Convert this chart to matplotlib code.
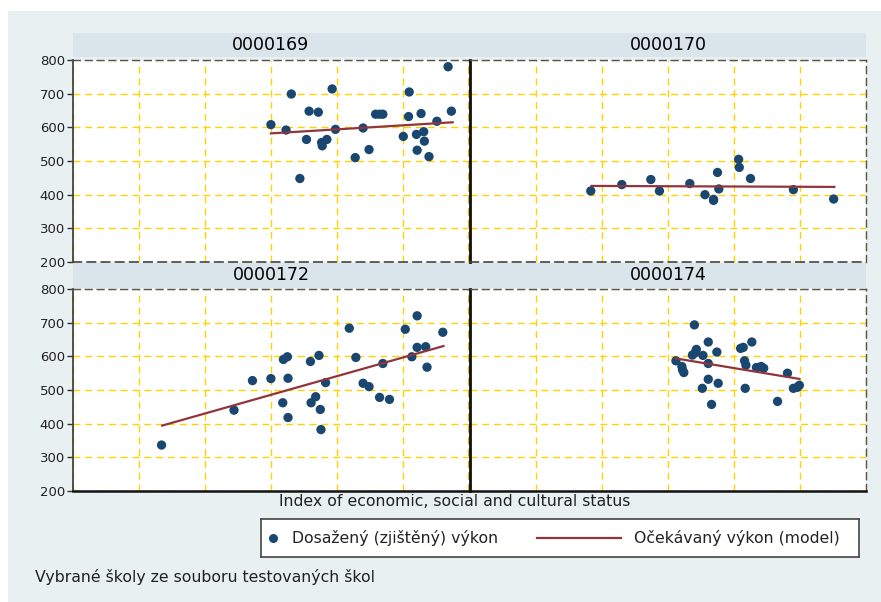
import numpy as np
import matplotlib.pyplot as plt
from matplotlib.patches import Rectangle

plt.rcParams['font.family'] = ['DejaVu Sans']

# School codes (panel titles)
schools = ['0000169', '0000170', '0000172', '0000174']

# Observed scores (index of ESCS, score) per school
x_169 = [0.00, 0.23, 0.31, 0.44, 0.54, 0.58, 0.72, 0.77, 0.78, 0.85, 0.93, 0.98, 1.28, 1.40, 1.49,
         1.59, 1.65, 1.70, 2.01, 2.09, 2.10, 2.21, 2.22, 2.28, 2.32, 2.33, 2.40, 2.52, 2.69, 2.74]
y_169 = [608, 592, 699, 448, 564, 648, 645, 555, 545, 564, 714, 594, 510, 598, 534,
         639, 639, 639, 573, 632, 705, 579, 532, 641, 587, 559, 513, 618, 780, 648]

x_170 = [-1.17, -0.70, -0.26, -0.13, 0.33, 0.56, 0.69, 0.69, 0.75, 0.77, 1.07, 1.08, 1.25, 1.90, 2.51]
y_170 = [411, 430, 445, 411, 433, 400, 386, 383, 466, 417, 505, 481, 448, 415, 387]

x_172 = [-1.66, -0.56, -0.28, 0.00, 0.18, 0.19, 0.25, 0.26, 0.26, 0.60, 0.61, 0.68, 0.73, 0.75, 0.76,
         0.83, 1.19, 1.29, 1.40, 1.49, 1.65, 1.70, 1.80, 2.04, 2.14, 2.22, 2.22, 2.35, 2.37, 2.61]
y_172 = [336, 440, 528, 534, 462, 591, 599, 535, 418, 585, 462, 480, 603, 442, 382,
         522, 684, 597, 520, 510, 478, 579, 472, 681, 599, 721, 627, 629, 568, 672]

x_174 = [0.12, 0.21, 0.22, 0.24, 0.37, 0.40, 0.41, 0.43, 0.52, 0.53, 0.61, 0.61, 0.61, 0.66, 0.74,
         0.76, 1.10, 1.14, 1.16, 1.17, 1.18, 1.27, 1.34, 1.41, 1.45, 1.66, 1.81, 1.90, 1.96, 1.99]
y_174 = [587, 570, 560, 552, 604, 694, 611, 621, 505, 603, 532, 643, 579, 457, 613,
         520, 624, 627, 587, 505, 574, 643, 567, 570, 565, 466, 550, 505, 508, 514]

# Expected (model) line end points per school
fit_x = [[0.00, 2.76], [-1.16, 2.52], [-1.65, 2.62], [0.12, 1.99]]
fit_y = [[582, 615], [426, 423], [394, 631], [594, 533]]

obs_x = [x_169, x_170, x_172, x_174]
obs_y = [y_169, y_170, y_172, y_174]

yticks = [200, 300, 400, 500, 600, 700, 800]
xgrid = [-3, -2, -1, 0, 1, 2, 3]

bg = '#e8f0f2'
strip_col = '#d9e5eb'
navy = '#1a476f'
maroon = '#90353b'
gold = '#ffd200'
txt = '#222222'

W, H = 881, 602
fig = plt.figure(figsize=(8.81, 6.02), dpi=100)
fig.patch.set_facecolor('white')
fig.patches.append(Rectangle((8 / W, 0), 1 - 8 / W, 1 - 11 / H, transform=fig.transFigure,
                             facecolor=bg, edgecolor='none', zorder=-10))

# panel layout in pixels: (left, right, top, bottom)
cols = [(73.3, 468.5), (470, 866)]
rows = [(60, 262), (289.3, 490.7)]
strips = [(33, 57), (263, 288)]

for i, code in enumerate(schools):
    r, c = divmod(i, 2)
    l, rr = cols[c]
    t, b = rows[r]
    ax = fig.add_axes([l / W, 1 - b / H, (rr - l) / W, (b - t) / H])

    # strip with school code
    st, sb = strips[r]
    sl = 72.7 if c == 0 else 468.5
    sr = 468.5 if c == 0 else 866
    fig.patches.append(Rectangle((sl / W, 1 - sb / H), (sr - sl) / W, (sb - st) / H,
                                 transform=fig.transFigure, facecolor=strip_col,
                                 edgecolor='none', zorder=-5))
    fig.text((l + rr) / 2 / W, 1 - (st + sb) / 2 / H, code, ha='center', va='center',
             fontsize=12.5, color='black')

    ax.set_facecolor('white')
    ax.set_xlim(-3, 3)
    ax.set_ylim(200, 800)
    ax.set_xticks(xgrid)
    ax.set_yticks(yticks)
    ax.grid(True, color=gold, linestyle=(0, (5, 3.5)), linewidth=1.0)
    ax.set_axisbelow(True)
    ax.tick_params(axis='x', length=0, labelbottom=False)
    if c == 0:
        ax.tick_params(axis='y', length=4, width=1, color='#333333', labelsize=9.5,
                       labelcolor=txt, pad=2)
    else:
        ax.tick_params(axis='y', length=0, labelleft=False)

    for side in ['top', 'right']:
        ax.spines[side].set_color('#555555')
        ax.spines[side].set_linestyle((0, (5, 3.5)))
        ax.spines[side].set_linewidth(1.0)
    ax.spines['left'].set_color('#111111' if c == 1 else '#444444')
    ax.spines['left'].set_linewidth(2.0 if c == 1 else 1.3)
    if r == 1:
        ax.spines['bottom'].set_color('#111111')
        ax.spines['bottom'].set_linewidth(1.8)
    else:
        ax.spines['bottom'].set_color('#444444')
        ax.spines['bottom'].set_linestyle((0, (5, 3.5)))
        ax.spines['bottom'].set_linewidth(1.2)

    ax.scatter(obs_x[i], obs_y[i], s=45, color=navy, edgecolors='none', zorder=3)
    ax.plot(fit_x[i], fit_y[i], color=maroon, linewidth=1.6, zorder=4)

fig.text(455 / W, 1 - 502 / H, 'Index of economic, social and cultural status',
         ha='center', va='center', fontsize=11.3, color=txt)

# legend box
lax = fig.add_axes([261 / W, 1 - 557.3 / H, 597.7 / W, 38 / H])
lax.set_xlim(0, 597.7)
lax.set_ylim(38, 0)
lax.set_xticks([])
lax.set_yticks([])
lax.set_facecolor('white')
for s in lax.spines.values():
    s.set_color('#444444')
    s.set_linewidth(1.2)
lax.plot([11.7], [19], 'o', color=navy, markersize=6.5, markeredgewidth=0)
lax.text(30.7, 19, 'Dosažený (zjištěný) výkon', va='center', fontsize=11.3, color=txt)
lax.plot([276, 360], [19, 19], color=maroon, linewidth=1.6)
lax.text(373, 19, 'Očekávaný výkon (model)', va='center', fontsize=11.3, color=txt)

fig.text(35 / W, 1 - 577 / H, 'Vybrané školy ze souboru testovaných škol',
         ha='left', va='center', fontsize=11.3, color=txt)

fig.savefig('out.png', dpi=100)
